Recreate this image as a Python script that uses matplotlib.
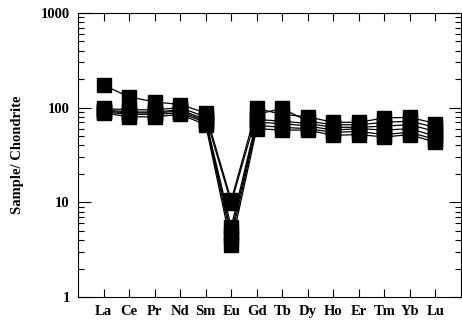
import matplotlib
matplotlib.use("Agg")
import matplotlib.pyplot as plt
from matplotlib.ticker import LogLocator, NullFormatter

elements = ["La", "Ce", "Pr", "Nd", "Sm", "Eu", "Gd", "Tb", "Dy", "Ho", "Er", "Tm", "Yb", "Lu"]

s1 = [173, 130, 115, 108, 88, 10.5, 98, 85, 80, 70, 70, 78, 79, 68]
s2 = [98, 95, 95, 100, 80, 9.8, 85, 98, 72, 66, 66, 70, 72, 62]
s3 = [95, 90, 90, 95, 75, 5.5, 75, 72, 68, 62, 62, 64, 66, 56]
s4 = [92, 88, 88, 92, 72, 4.8, 70, 68, 64, 58, 60, 58, 60, 50]
s5 = [90, 85, 85, 88, 70, 4.2, 65, 62, 60, 55, 56, 52, 55, 46]
s6 = [88, 80, 80, 85, 66, 3.5, 60, 58, 58, 51, 52, 49, 52, 43]
series = [s1, s2, s3, s4, s5, s6]

ytick_vals = [1, 10, 100, 1000]
ytick_labels = ["1", "10", "100", "1000"]

plt.rcParams['font.family'] = ['Liberation Serif', 'DejaVu Serif']

fig = plt.figure(figsize=(4.62, 3.24), dpi=100)
ax = fig.add_axes([78/462, 27/324, (461-78)/462, (297-13)/324])

x = list(range(1, len(elements) + 1))
for s in series:
    ax.plot(x, s, color='black', lw=0.9, marker='s', ms=10, mfc='black', mec='black')

ax.set_yscale('log')
ax.set_ylim(1, 1000)
ax.set_xlim(0, len(elements) + 1)
ax.set_xticks(x)
ax.set_xticklabels(elements, fontweight='bold', fontsize=10.5)
ax.set_yticks(ytick_vals)
ax.set_yticklabels(ytick_labels, fontweight='bold', fontsize=10.5)
ax.yaxis.set_minor_locator(LogLocator(base=10, subs=range(2, 10)))
ax.yaxis.set_minor_formatter(NullFormatter())

ax.tick_params(axis='both', which='major', direction='in', top=True, right=True,
               length=6, width=0.8, pad=6)
ax.tick_params(axis='y', which='major', length=9)
ax.tick_params(axis='y', which='minor', direction='in', right=True, length=4.5, width=0.8)
for sp in ax.spines.values():
    sp.set_linewidth(0.8)

ax.set_ylabel("Sample/ Chondrite", fontweight='bold', fontsize=10.5, labelpad=12)

fig.savefig("out.png", dpi=100)
